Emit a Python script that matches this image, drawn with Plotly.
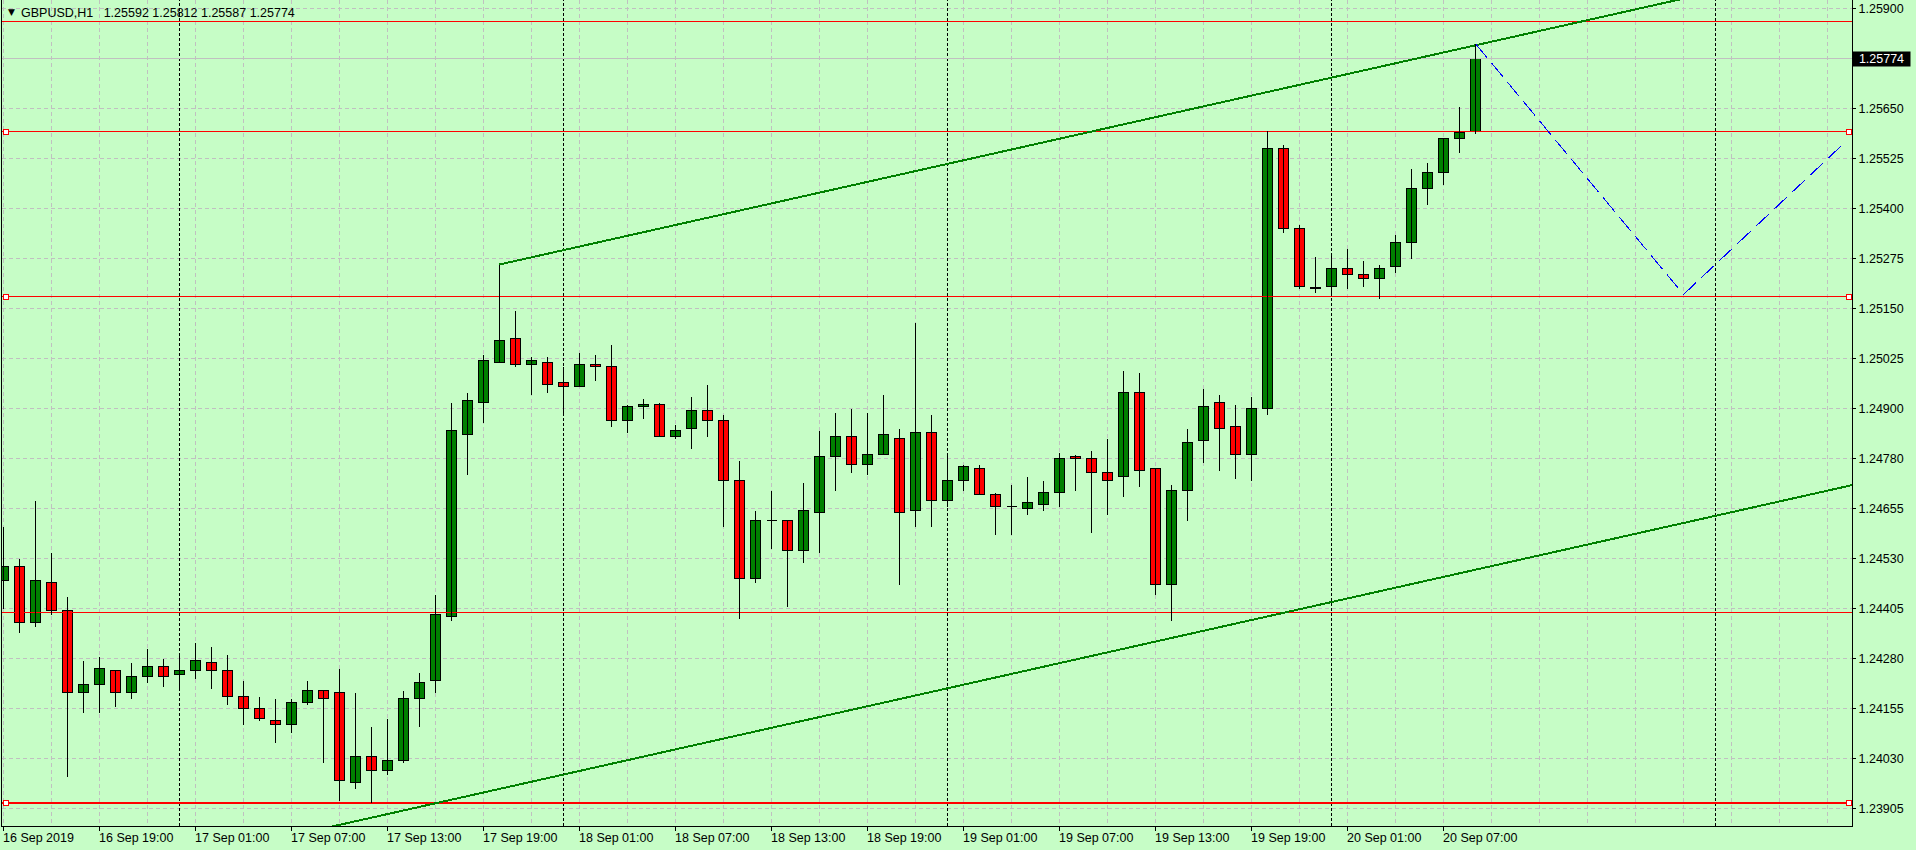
import plotly.graph_objects as go

# GBPUSD H1, bar index 0 = 16 Sep 2019 13:00 ... 92 = 20 Sep 2019 09:00
bar_open = [
    1.24470, 1.24503, 1.24363, 1.24465, 1.24393, 1.24190, 1.24208, 1.24245, 1.24188, 1.24228,
    1.24253, 1.24233, 1.24245, 1.24265, 1.24245, 1.24180, 1.24150, 1.24120, 1.24110, 1.24163,
    1.24193, 1.24188, 1.23965, 1.24028, 1.23995, 1.24020, 1.24175, 1.24218, 1.24378, 1.24835,
    1.24913, 1.25015, 1.25075, 1.25008, 1.25013, 1.24963, 1.24955, 1.25010, 1.25005, 1.24868,
    1.24903, 1.24910, 1.24828, 1.24848, 1.24895, 1.24868, 1.24720, 1.24475, 1.24618, 1.24618,
    1.24545, 1.24640, 1.24778, 1.24828, 1.24758, 1.24783, 1.24825, 1.24645, 1.24838, 1.24670,
    1.24720, 1.24750, 1.24683, 1.24653, 1.24650, 1.24660, 1.24688, 1.24778, 1.24773, 1.24738,
    1.24730, 1.24940, 1.24748, 1.24460, 1.24693, 1.24818, 1.24913, 1.24853, 1.24785, 1.24900,
    1.25548, 1.25350, 1.25200, 1.25203, 1.25248, 1.25233, 1.25223, 1.25253, 1.25315, 1.25450,
    1.25490, 1.25573, 1.25592,
]
bar_high = [
    1.24603, 1.24525, 1.24668, 1.24540, 1.24430, 1.24270, 1.24278, 1.24245, 1.24263, 1.24298,
    1.24275, 1.24283, 1.24313, 1.24303, 1.24283, 1.24220, 1.24178, 1.24175, 1.24175, 1.24218,
    1.24195, 1.24250, 1.24188, 1.24105, 1.24123, 1.24193, 1.24238, 1.24433, 1.24915, 1.24940,
    1.25035, 1.25260, 1.25145, 1.25030, 1.25030, 1.25005, 1.25040, 1.25033, 1.25058, 1.24910,
    1.24923, 1.24915, 1.24858, 1.24928, 1.24960, 1.24883, 1.24770, 1.24645, 1.24695, 1.24618,
    1.24713, 1.24845, 1.24890, 1.24900, 1.24890, 1.24935, 1.24848, 1.25113, 1.24885, 1.24790,
    1.24760, 1.24758, 1.24688, 1.24710, 1.24728, 1.24718, 1.24788, 1.24785, 1.24793, 1.24825,
    1.24993, 1.24990, 1.24748, 1.24710, 1.24850, 1.24950, 1.24935, 1.24910, 1.24930, 1.25595,
    1.25560, 1.25358, 1.25278, 1.25290, 1.25298, 1.25268, 1.25258, 1.25335, 1.25500, 1.25515,
    1.25575, 1.25653, 1.25812,
]
bar_low = [
    1.24400, 1.24340, 1.24353, 1.24383, 1.23980, 1.24140, 1.24138, 1.24155, 1.24175, 1.24215,
    1.24203, 1.24193, 1.24225, 1.24200, 1.24160, 1.24110, 1.24120, 1.24063, 1.24088, 1.24158,
    1.24015, 1.23918, 1.23948, 1.23913, 1.23985, 1.24013, 1.24103, 1.24190, 1.24370, 1.24733,
    1.24865, 1.25013, 1.25005, 1.24933, 1.24938, 1.24888, 1.24955, 1.24968, 1.24853, 1.24840,
    1.24875, 1.24828, 1.24823, 1.24798, 1.24828, 1.24605, 1.24375, 1.24463, 1.24548, 1.24403,
    1.24515, 1.24540, 1.24693, 1.24738, 1.24735, 1.24783, 1.24458, 1.24603, 1.24603, 1.24653,
    1.24693, 1.24683, 1.24583, 1.24585, 1.24635, 1.24645, 1.24653, 1.24695, 1.24590, 1.24635,
    1.24680, 1.24705, 1.24433, 1.24370, 1.24618, 1.24765, 1.24745, 1.24723, 1.24720, 1.24885,
    1.25340, 1.25198, 1.25188, 1.25185, 1.25200, 1.25203, 1.25173, 1.25240, 1.25275, 1.25408,
    1.25458, 1.25540, 1.25587,
]
bar_close = [
    1.24503, 1.24363, 1.24468, 1.24395, 1.24190, 1.24208, 1.24250, 1.24190, 1.24228, 1.24253,
    1.24230, 1.24243, 1.24270, 1.24245, 1.24180, 1.24150, 1.24123, 1.24108, 1.24163, 1.24195,
    1.24175, 1.23968, 1.24028, 1.23993, 1.24020, 1.24175, 1.24215, 1.24383, 1.24843, 1.24918,
    1.25020, 1.25068, 1.25008, 1.25018, 1.24960, 1.24953, 1.25010, 1.25003, 1.24868, 1.24903,
    1.24910, 1.24828, 1.24845, 1.24893, 1.24868, 1.24720, 1.24475, 1.24618, 1.24618, 1.24543,
    1.24645, 1.24780, 1.24830, 1.24758, 1.24783, 1.24833, 1.24640, 1.24840, 1.24670, 1.24718,
    1.24753, 1.24683, 1.24655, 1.24653, 1.24665, 1.24688, 1.24775, 1.24773, 1.24738, 1.24720,
    1.24940, 1.24743, 1.24460, 1.24695, 1.24815, 1.24905, 1.24850, 1.24785, 1.24898, 1.25548,
    1.25350, 1.25203, 1.25200, 1.25248, 1.25233, 1.25223, 1.25250, 1.25315, 1.25450, 1.25490,
    1.25573, 1.25588, 1.25774,
]

time_tick_bars = [0, 6, 12, 18, 24, 30, 36, 42, 48, 54, 60, 66, 72, 78, 84, 90]
time_tick_labels = [
    "16 Sep 2019", "16 Sep 19:00", "17 Sep 01:00", "17 Sep 07:00", "17 Sep 13:00",
    "17 Sep 19:00", "18 Sep 01:00", "18 Sep 07:00", "18 Sep 13:00", "18 Sep 19:00",
    "19 Sep 01:00", "19 Sep 07:00", "19 Sep 13:00", "19 Sep 19:00", "20 Sep 01:00",
    "20 Sep 07:00",
]
day_separator_bars = [11, 35, 59, 83, 107]

price_ticks = [1.25900, 1.25775, 1.25650, 1.25525, 1.25400, 1.25275, 1.25150, 1.25025, 1.24900,
               1.24775, 1.24650, 1.24525, 1.24400, 1.24275, 1.24150, 1.24025, 1.23900]
price_tick_labels = ["1.25900", "", "1.25650", "1.25525", "1.25400", "1.25275", "1.25150",
                     "1.25025", "1.24900", "1.24780", "1.24655", "1.24530", "1.24405",
                     "1.24280", "1.24155", "1.24030", "1.23905"]

# horizontal objects on the chart
hline_prices = [1.25867, 1.25592, 1.25180, 1.24389, 1.23915]
hline_widths = [1, 1, 1, 1, 2]
hline_selected = [False, True, True, False, True]
bid_price = 1.25774

# equidistant channel + forecast zigzag
channel_bars = [31, 92]
channel_prices = [1.25260, 1.25808]
channel_gap = 0.01311
zigzag_bars = [92, 105, 115]
zigzag_prices = [1.25812, 1.25185, 1.25562]

header = "GBPUSD,H1\u00a0\u00a0 1.25592 1.25812 1.25587 1.25774"

BG = "#c6fdc6"
GRID = "#c0c0c0"
FONT = "Liberation Sans"
X_RANGE = [-0.09375, 115.53125]
Y_RANGE = [1.2385625, 1.2592125]

fig = go.Figure()


def add_line(x, y, color, width=1, dash="solid"):
    fig.add_trace(go.Scatter(x=x, y=y, mode="lines", hoverinfo="skip", showlegend=False,
                             line=dict(color=color, width=width, dash=dash)))


# day separators
for b in day_separator_bars:
    add_line([b, b], Y_RANGE, "black", 1, "3px,2px")

# horizontal lines
add_line(X_RANGE, [bid_price, bid_price], "#c0c0c0", 1)
for p, w in zip(hline_prices, hline_widths):
    add_line(X_RANGE, [p, p], "#ff0000", w)

# channel
slope = (channel_prices[1] - channel_prices[0]) / (channel_bars[1] - channel_bars[0])
x_end = X_RANGE[1] + 1
add_line([channel_bars[0], x_end],
         [channel_prices[0], channel_prices[0] + slope * (x_end - channel_bars[0])],
         "#008000", 2)
x_start = channel_bars[0] - 16
add_line([x_start, x_end],
         [channel_prices[0] - channel_gap + slope * (x_start - channel_bars[0]),
          channel_prices[0] - channel_gap + slope * (x_end - channel_bars[0])],
         "#008000", 2)

# zigzag
add_line(zigzag_bars, zigzag_prices, "#0000ff", 1, "18px,7px")

# candles: wicks then bodies
idx = list(range(len(bar_open)))
wx, wy = [], []
for i in idx:
    wx += [i, i, None]
    wy += [bar_low[i], bar_high[i], None]
add_line(wx, wy, "black", 1)

body_base = [min(o, c) for o, c in zip(bar_open, bar_close)]
body_h = [max(abs(c - o), 0.000006) for o, c in zip(bar_open, bar_close)]
body_col = ["#008000" if c >= o else "#ff0000" for o, c in zip(bar_open, bar_close)]
fig.add_trace(go.Bar(x=idx, y=body_h, base=body_base, width=0.625, hoverinfo="skip",
                     showlegend=False,
                     marker=dict(color=body_col, line=dict(color="black", width=1))))

# end-point handles of selected lines
sel = [p for p, s in zip(hline_prices, hline_selected) if s]
hx = [X_RANGE[0] + 3.5 / 16] * len(sel) + [X_RANGE[1] - 3.5 / 16] * len(sel)
fig.add_trace(go.Scatter(x=hx, y=sel + sel, mode="markers", hoverinfo="skip", showlegend=False,
                         cliponaxis=False,
                         marker=dict(symbol="square", size=5, color="white",
                                     line=dict(color="#ff0000", width=1))))

# time labels (left aligned at tick, like the terminal)
for b, t in zip(time_tick_bars, time_tick_labels):
    fig.add_annotation(x=b, y=0, xref="x", yref="paper", text=t, showarrow=False,
                       xanchor="left", yanchor="top", xshift=-3, yshift=-3,
                       font=dict(family=FONT, size=12.5, color="black"))

# current price box
fig.add_annotation(x=1, y=bid_price, xref="paper", yref="y", text="1.25774", showarrow=False,
                   xanchor="left", yanchor="middle", xshift=0, width=55, height=12, borderpad=1,
                   bgcolor="black", font=dict(family=FONT, size=12.5, color="white"))

# header
fig.add_annotation(x=(11 - 2) / 1850, y=1 - 12.5 / 826, xref="paper", yref="paper", text="\u25bc",
                   showarrow=False, xanchor="center", yanchor="middle",
                   font=dict(family="DejaVu Sans", size=9, color="black"))
fig.add_annotation(x=(19 - 2) / 1850, y=1 - 13 / 826, xref="paper", yref="paper", text=header,
                   showarrow=False, xanchor="left", yanchor="middle",
                   font=dict(family=FONT, size=12.5, color="black"))

fig.update_layout(
    width=1916, height=850, autosize=False,
    margin=dict(l=2, r=64, t=0, b=24),
    paper_bgcolor=BG, plot_bgcolor=BG,
    template="none", showlegend=False, bargap=0,
    font=dict(family=FONT, size=12.5, color="black"),
    xaxis=dict(range=X_RANGE, tickmode="array", tickvals=time_tick_bars, showticklabels=False,
               ticks="outside", ticklen=4, tickcolor="black",
               showgrid=True, gridcolor=GRID, griddash="4px,3px", gridwidth=1,
               minor=dict(tickmode="linear", tick0=0, dtick=3, showgrid=True, gridcolor=GRID,
                          griddash="4px,3px", gridwidth=1, ticks=""),
               showline=True, linecolor="black", linewidth=1, mirror=False,
               zeroline=False, automargin=False, fixedrange=True),
    yaxis=dict(range=Y_RANGE, side="right", tickmode="array", tickvals=price_ticks,
               ticktext=price_tick_labels, ticks="outside", ticklen=3, tickcolor="black",
               showgrid=True, gridcolor=GRID, griddash="4px,3px", gridwidth=1,
               showline=True, linecolor="black", linewidth=1, mirror=True,
               zeroline=False, automargin=False, fixedrange=True,
               tickfont=dict(family=FONT, size=12.5, color="black")),
)

# page body margin would offset the figure inside the window;
# non-antialiased lines like the terminal draws them
fig.write_html("out.html", config=dict(displayModeBar=False),
               post_script="document.body.style.margin='0px';"
                           "document.body.style.background='" + BG + "';"
                           "var s=document.createElement('style');"
                           "s.textContent='.main-svg path{shape-rendering:crispEdges;}';"
                           "document.head.appendChild(s);")
